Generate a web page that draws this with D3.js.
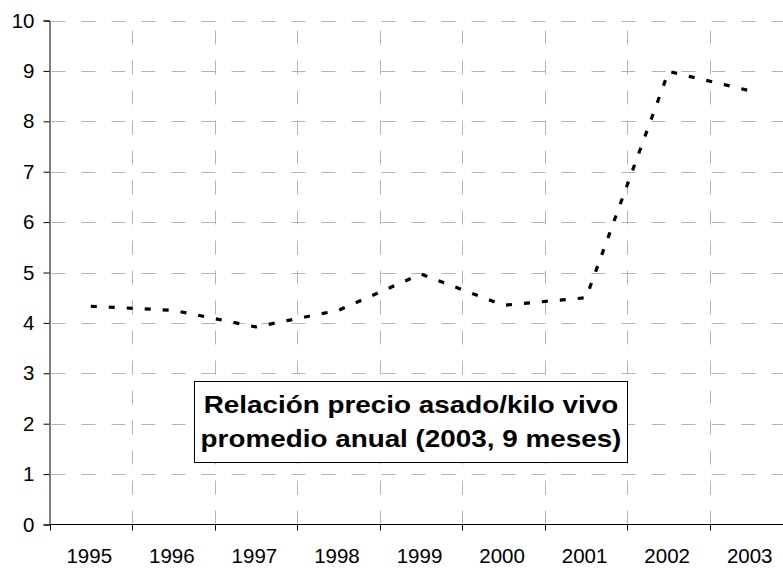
<!DOCTYPE html>
<html lang="es">
<head>
<meta charset="utf-8">
<title>Relación precio asado/kilo vivo</title>
<script src="https://cdn.jsdelivr.net/npm/d3@7"></script>
<style>
  body { margin: 0; background: #fff; }
  svg { display: block; font-family: "Liberation Sans", Arial, sans-serif; }
</style>
</head>
<body>
<div id="chart"></div>
<script>
// data
const years = ["1995", "1996", "1997", "1998", "1999", "2000", "2001", "2002", "2003"];
const ratio = [4.33, 4.25, 3.92, 4.25, 4.97, 4.35, 4.5, 8.99, 8.6];
const yTicks = [0, 1, 2, 3, 4, 5, 6, 7, 8, 9, 10];
const titleLines = ["Relación precio asado/kilo vivo", "promedio anual (2003, 9 meses)"];

const W = 783, H = 568;
const plot = {left: 49.5, right: 792.5, top: 20.5, bottom: 524.5};

const svg = d3.select("#chart").append("svg")
    .attr("width", W)
    .attr("height", H);

const x = d3.scaleBand()
    .domain(years)
    .range([plot.left, plot.right])
    .padding(0);

const y = d3.scaleLinear()
    .domain([0, 10])
    .range([plot.bottom, plot.top]);

// horizontal grid
svg.append("g")
    .selectAll("line")
    .data(yTicks.filter(d => d > 0))
    .enter().append("line")
    .attr("x1", plot.left)
    .attr("x2", plot.right)
    .attr("y1", d => Math.round(y(d)) + 0.5)
    .attr("y2", d => Math.round(y(d)) + 0.5)
    .attr("stroke", "#b4b4b4")
    .attr("stroke-width", 1)
    .attr("stroke-dasharray", "14,16")
    .attr("stroke-dashoffset", -2);

// vertical grid at category boundaries
svg.append("g")
    .selectAll("line")
    .data(years.slice(1))
    .enter().append("line")
    .attr("x1", d => Math.round(x(d)) + 0.5)
    .attr("x2", d => Math.round(x(d)) + 0.5)
    .attr("y1", plot.bottom)
    .attr("y2", plot.top)
    .attr("stroke", "#b4b4b4")
    .attr("stroke-width", 1)
    .attr("stroke-dasharray", "14,16")
    .attr("stroke-dashoffset", 0);

// y axis
const yAxis = svg.append("g")
    .attr("transform", "translate(" + plot.left + ",0)")
    .call(d3.axisLeft(y).tickValues(yTicks).tickSize(6).tickPadding(9).tickFormat(d3.format("d")));
yAxis.select(".domain").attr("stroke", "#000");
yAxis.selectAll(".tick line").attr("stroke", "#000");
yAxis.selectAll("text").attr("font-size", 20.5).attr("fill", "#000")
    .attr("font-family", "Liberation Sans, Arial, sans-serif");

// x axis: ticks on the band boundaries, labels centred
svg.append("line")
    .attr("x1", plot.left).attr("x2", plot.right)
    .attr("y1", plot.bottom).attr("y2", plot.bottom)
    .attr("stroke", "#000");

svg.append("g")
    .selectAll("line")
    .data(years)
    .enter().append("line")
    .attr("x1", d => Math.round(x(d)) + 0.5)
    .attr("x2", d => Math.round(x(d)) + 0.5)
    .attr("y1", plot.bottom)
    .attr("y2", plot.bottom + 6)
    .attr("stroke", "#000");

svg.append("g")
    .selectAll("text")
    .data(years)
    .enter().append("text")
    .attr("x", d => x(d) + x.bandwidth() / 2 - 1.5)
    .attr("y", plot.bottom + 38.8)
    .attr("text-anchor", "middle")
    .attr("font-size", 20.5)
    .attr("fill", "#000")
    .text(d => d);

// the series
const line = d3.line()
    .x((d, i) => x(years[i]) + x.bandwidth() / 2)
    .y(d => y(d));

svg.append("path")
    .datum(ratio)
    .attr("d", line)
    .attr("fill", "none")
    .attr("stroke", "#000")
    .attr("stroke-width", 3.2)
    .attr("stroke-dasharray", "6,12");

// label box
const box = svg.append("g");
box.append("rect")
    .attr("x", 194.5)
    .attr("y", 381.5)
    .attr("width", 433)
    .attr("height", 81)
    .attr("fill", "#fff")
    .attr("stroke", "#000")
    .attr("stroke-width", 1);

// the reference text is a bit wider than Arial, so stretch it horizontally
box.selectAll("text")
    .data(titleLines)
    .enter().append("text")
    .attr("transform", (d, i) => "translate(411," + (413 + i * 34) + ") scale(1.16,1)")
    .attr("text-anchor", "middle")
    .attr("font-size", 24)
    .attr("font-weight", "bold")
    .attr("fill", "#000")
    .text(d => d);
</script>
</body>
</html>
